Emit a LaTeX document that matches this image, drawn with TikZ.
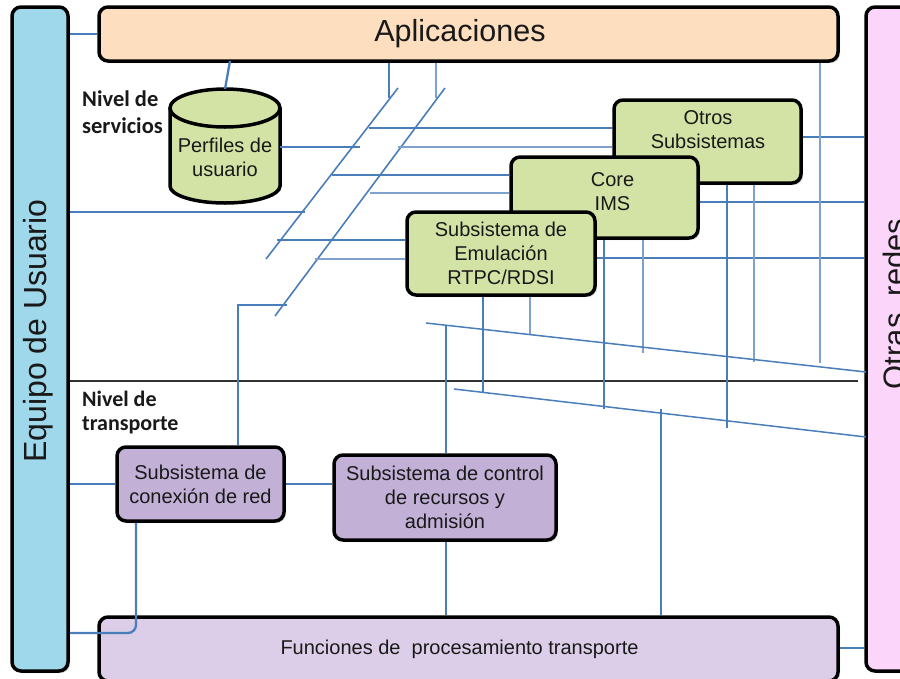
\documentclass[tikz,border=0pt]{standalone}
\usepackage{fontspec}
\setmainfont{Liberation Sans}
\newfontfamily\calibri{Carlito}
\usetikzlibrary{shadows}
\definecolor{equipoc}{RGB}{158,216,234}
\definecolor{otrasc}{RGB}{251,214,250}
\definecolor{aplicc}{RGB}{253,222,190}
\definecolor{funcc}{RGB}{220,206,232}
\definecolor{moradoc}{RGB}{194,176,215}
\definecolor{verdec}{RGB}{211,227,166}
\definecolor{bdark}{RGB}{74,126,187}
\definecolor{blight}{RGB}{126,161,206}
\definecolor{sepc}{RGB}{50,50,50}
\definecolor{txtc}{RGB}{25,25,25}
\begin{document}
\begin{tikzpicture}[x=1pt,y=-1pt,
  box/.style={draw=black, line width=3.5pt, rounded corners=9pt, inner sep=0pt,
    drop shadow={shadow xshift=2pt,shadow yshift=-2pt,opacity=0.3}},
  txt/.style={font=\fontsize{20}{24}\selectfont, align=center, inner sep=0pt, text=txtc},
  nivel/.style={font=\calibri\bfseries\fontsize{22.5}{27}\selectfont, align=left, inner sep=0pt, anchor=north west, text=txtc},
  cn/.style={draw=bdark, line width=2.3pt},
  cnl/.style={draw=blight, line width=1.9pt},
  cnt/.style={draw=bdark, line width=1.6pt},
  cns/.style={draw=bdark, line width=1.5pt},
  sepline/.style={draw=sepc, line width=2.8pt}]
\useasboundingbox (0,0) rectangle (900,678);

% side bars
\node[box, fill=equipoc, minimum width=56pt, minimum height=664pt] (equipo) at (40,339) {};
\node[rotate=90, inner sep=0pt, text=txtc, font=\fontsize{32}{38}\selectfont] (equipotxt) at (38.5,331) {Equipo de Usuario};
\node[box, fill=otrasc, minimum width=60pt, minimum height=664pt] (otras) at (896,339) {};
\node[rotate=90, inner sep=0pt, text=txtc, font=\fontsize{31}{37}\selectfont] (otrastxt) at (894,304) {Otras\ \ redes};

% top and bottom bars
\node[box, fill=aplicc, minimum width=739pt, minimum height=54pt, text=txtc, font=\fontsize{30.5}{36}\selectfont] (aplic) at (468.5,34) {Aplicaciones\rule{17pt}{0pt}};
\node[box, fill=funcc, minimum width=739pt, minimum height=64pt, text=txtc, font=\fontsize{20}{24}\selectfont] (funcs) at (468.5,649) {Funciones de\ \ procesamiento transporte\rule{18pt}{0pt}};

% level labels
\node[nivel] (nivserv) at (82,91) {Nivel de\\servicios};
\node[nivel, font=\calibri\bfseries\fontsize{22}{24}\selectfont] (nivtrans) at (82,391) {Nivel de\\transporte};

% cylinder
\fill[verdec] (170,108) -- (170,186) arc[start angle=180,end angle=360,x radius=55pt,y radius=17pt] -- (280,108) arc[start angle=0,end angle=180,x radius=55pt,y radius=19pt] -- cycle;
\draw[line width=3.5pt] (170,108) -- (170,186) arc[start angle=180,end angle=360,x radius=55pt,y radius=17pt] -- (280,108);
\draw[line width=3.5pt, fill=verdec] (225,108) ellipse[x radius=55pt, y radius=19pt];
\node[txt, minimum width=110pt, minimum height=80pt] (perfiles) at (225,157.5) {Perfiles de\\usuario};
\coordinate (cyltop) at (225,89);

% service boxes
\node[box, fill=verdec, minimum width=187pt, minimum height=83pt] (otros) at (707.5,141.5) {};
\node[txt] (otrostxt) at (708,130) {Otros\\Subsistemas};
\node[box, fill=verdec, minimum width=187pt, minimum height=81pt] (core) at (604.5,197.5) {};
\node[txt] (coretxt) at (612.5,192) {Core\\IMS};
\node[box, fill=verdec, minimum width=188pt, minimum height=83pt, txt] (emul) at (501,253.5) {Subsistema de\\Emulación\\RTPC/RDSI};

% transport boxes
\node[box, fill=moradoc, minimum width=167pt, minimum height=74pt, txt] (conex) at (200.5,484) {Subsistema de\\conexión de red};
\node[box, fill=moradoc, minimum width=222pt, minimum height=85pt, txt] (control) at (445,497.5) {Subsistema de control\\de recursos y\\admisión};

% separator
\coordinate (sep) at (858,381);
\draw[sepline] (sep -| equipo.east) -- (sep);

% coordinates of the bus lines
\coordinate (d1t) at (398,88); \coordinate (d1b) at (266,259);
\coordinate (d2t) at (445,88); \coordinate (d2b) at (275,316);
\coordinate (s1l) at (426,323); \coordinate (s1r) at (866,372);
\coordinate (s2l) at (454,389); \coordinate (s2r) at (866,437);

% top connectors
\draw[cn] (equipo.east |- aplic.west) -- (aplic.west);
\coordinate (ap1) at (230,61);
\draw[cn] (ap1) -- (cyltop);
\coordinate (v1) at (389,98); \draw[cn] (v1 |- aplic.south) -- (v1);
\coordinate (v2) at (436,98); \draw[cnl] (v2 |- aplic.south) -- (v2);
\draw[cnt] (d1t) -- (d1b);
\draw[cnt] (d2t) -- (d2b);

\coordinate (h1) at (369,128); \draw[cn] (h1) -- (h1 -| otros.west);
\coordinate (h2) at (360,147); \draw[cn] (h2 -| perfiles.east) -- (h2);
\coordinate (h3) at (398,147); \draw[cnl] (h3) -- (h3 -| otros.west);
\coordinate (h4) at (332,175); \draw[cn] (h4) -- (h4 -| core.west);
\coordinate (h5) at (370,193); \draw[cnl] (h5) -- (h5 -| core.west);
\coordinate (h6) at (305,212); \draw[cn] (h6 -| equipo.east) -- (h6);
\coordinate (h7) at (277,240); \draw[cn] (h7) -- (h7 -| emul.west);
\coordinate (h8) at (315,259); \draw[cnl] (h8) -- (h8 -| emul.west);
\coordinate (h9) at (287,305); \coordinate (h9c) at (238,305);
\draw[cn] (h9) -- (h9c) -- (h9c |- conex.north);

% to other networks
\coordinate (r1) at (0,137); \draw[cn] (otros.east |- r1) -- (otras.west |- r1);
\coordinate (r2) at (0,202); \draw[cn] (core.east |- r2) -- (otras.west |- r2);
\coordinate (r3) at (0,258); \draw[cn] (emul.east |- r3) -- (otras.west |- r3);
\coordinate (r4) at (0,648); \draw[cn] (funcs.east |- r4) -- (otras.west |- r4);

% verticals
\coordinate (v3) at (483,392); \draw[cn] (v3 |- emul.south) -- (v3);
\coordinate (v4) at (530,334); \draw[cnl] (v4 |- emul.south) -- (v4);
\coordinate (v5) at (604,409); \draw[cn] (v5 |- core.south) -- (v5);
\coordinate (v6) at (643,353); \draw[cnl] (v6 |- core.south) -- (v6);
\coordinate (v7) at (727,428); \draw[cn] (v7 |- otros.south) -- (v7);
\coordinate (v8) at (754,362); \draw[cnl] (v8 |- otros.south) -- (v8);
\coordinate (v9) at (820,363); \draw[cnl] (v9 |- aplic.south) -- (v9);

% slanted lines
\draw[cns] (s1l) -- (s1r);
\draw[cns] (s2l) -- (s2r);
\coordinate (v10) at (446,325);
\draw[cn] (v10) -- (v10 |- control.north);
\draw[cn] (control.south -| v10) -- (v10 |- funcs.north);
\coordinate (v11) at (661,409); \draw[cn] (v11) -- (v11 |- funcs.north);

% transport connectors
\draw[cn] (equipo.east |- conex.west) -- (conex.west);
\draw[cn] (conex.east) -- (conex.east -| control.west);
\coordinate (v12) at (136,633);
\draw[cn, rounded corners=8pt] (v12 |- conex.south) -- (v12) -- (v12 -| equipo.east);
\end{tikzpicture}
\end{document}
